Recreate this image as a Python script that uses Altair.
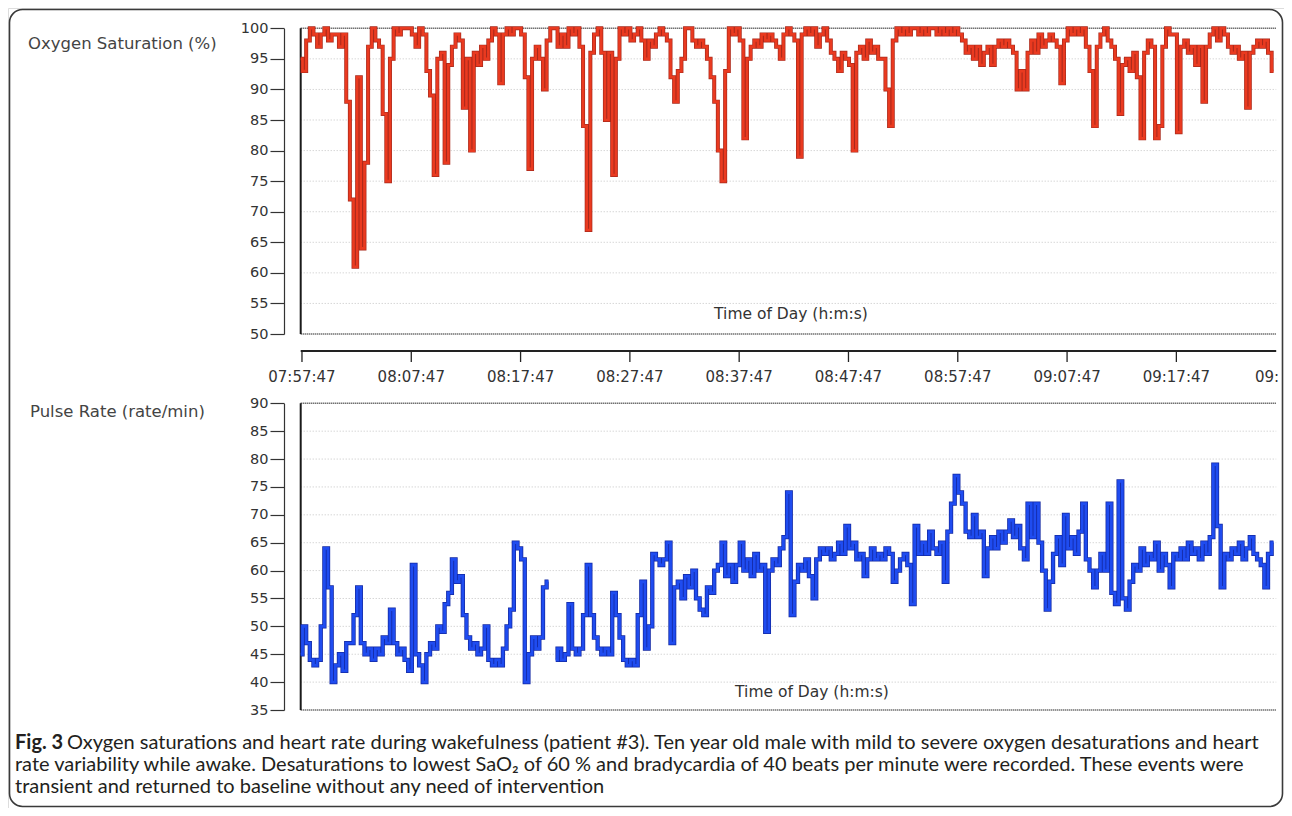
import altair as alt
import pandas as pd

# ---------------- data ----------------
START = "2015-01-01T07:57:40"
END = "2015-01-01T09:26:55"
STEP_SECONDS = 20

spo2 = [
    95, 93, 98, 100, 99, 97, 99, 100, 98, 99,
    99, 97, 99, 88, 72, 61, 92, 64, 78, 97,
    100, 98, 97, 86, 75, 95, 100, 99, 100, 100,
    100, 99, 97, 100, 99, 93, 89, 76, 95, 96,
    78, 94, 97, 99, 98, 87, 95, 80, 96, 94,
    97, 95, 98, 100, 99, 91, 99, 100, 99, 100,
    100, 99, 92, 77, 95, 97, 95, 90, 98, 100,
    100, 97, 99, 97, 100, 99, 100, 97, 84, 67,
    96, 99, 100, 96, 85, 96, 76, 95, 100, 99,
    100, 98, 99, 100, 98, 95, 98, 97, 99, 100,
    99, 98, 92, 88, 93, 95, 100, 100, 98, 97,
    98, 97, 95, 92, 88, 80, 75, 93, 100, 99,
    100, 98, 82, 95, 97, 98, 97, 99, 98, 99,
    98, 97, 95, 99, 100, 99, 98, 79, 99, 100,
    99, 100, 97, 99, 100, 98, 96, 95, 93, 96,
    95, 94, 80, 96, 97, 95, 98, 96, 97, 95,
    95, 90, 84, 98, 100, 99, 100, 99, 100, 100,
    99, 100, 99, 100, 100, 99, 100, 99, 100, 99,
    100, 99, 98, 96, 97, 95, 97, 94, 96, 97,
    94, 97, 98, 97, 98, 97, 96, 90, 93, 90,
    96, 98, 96, 99, 97, 98, 99, 98, 97, 91,
    98, 100, 99, 100, 99, 100, 97, 93, 84, 97,
    99, 100, 98, 97, 95, 86, 94, 95, 93, 96,
    92, 82, 96, 98, 97, 82, 84, 97, 100, 99,
    99, 83, 97, 98, 96, 97, 94, 97, 88, 97,
    99, 100, 98, 100, 99, 97, 96, 97, 95, 96,
    87, 96, 97, 98, 97, 98, 96, 93,
]

pulse = [
    45, 50, 47, 44, 43, 44, 50, 64, 57, 40,
    43, 45, 42, 47, 47, 52, 57, 47, 45, 46,
    44, 46, 45, 48, 47, 53, 47, 45, 46, 44,
    42, 61, 45, 43, 40, 45, 47, 46, 50, 49,
    54, 56, 62, 58, 59, 52, 48, 46, 47, 45,
    46, 50, 44, 43, 44, 43, 46, 50, 53, 65,
    64, 62, 40, 45, 48, 46, 48, 57, 58, None,
    44, 46, 44, 45, 54, 46, 45, 46, 52, 61,
    52, 48, 46, 45, 46, 45, 56, 52, 48, 44,
    43, 44, 43, 52, 58, 46, 50, 63, 62, 61,
    62, 65, 47, 57, 58, 55, 59, 57, 60, 55,
    53, 52, 57, 56, 60, 61, 65, 59, 61, 58,
    61, 65, 60, 62, 59, 63, 60, 61, 49, 60,
    62, 61, 64, 66, 74, 52, 58, 61, 60, 62,
    59, 55, 62, 64, 63, 64, 62, 63, 65, 63,
    68, 64, 65, 62, 63, 59, 62, 64, 62, 63,
    62, 64, 63, 58, 60, 62, 63, 61, 54, 68,
    63, 65, 63, 67, 64, 63, 65, 58, 67, 72,
    77, 74, 72, 67, 66, 70, 66, 67, 59, 64,
    66, 64, 67, 65, 67, 69, 66, 68, 64, 62,
    72, 66, 72, 65, 60, 53, 58, 63, 66, 61,
    70, 64, 66, 63, 67, 72, 62, 60, 57, 60,
    63, 60, 72, 56, 54, 76, 55, 53, 58, 61,
    60, 64, 61, 63, 62, 65, 60, 63, 61, 57,
    63, 62, 64, 62, 65, 63, 64, 62, 65, 63,
    66, 79, 68, 57, 63, 62, 64, 63, 65, 62,
    64, 66, 63, 62, 61, 57, 63, 65,
]

time_ticks = ["07:57:47", "08:07:47", "08:17:47", "08:27:47", "08:37:47",
              "08:47:47", "08:57:47", "09:07:47", "09:17:47"]
spo2_ticks = [50, 55, 60, 65, 70, 75, 80, 85, 90, 95, 100]
pulse_ticks = [35, 40, 45, 50, 55, 60, 65, 70, 75, 80, 85, 90]

title_spo2 = "Oxygen Saturation (%)"
title_pulse = "Pulse Rate (rate/min)"
x_title = "Time of Day (h:m:s)"
cut_label = "09:"
caption_bold = "Fig. 3"
caption_line1 = ("Oxygen saturations and heart rate during wakefulness (patient #3). "
                 "Ten year old male with mild to severe oxygen desaturations and heart")
caption_line2 = ("rate variability while awake. Desaturations to lowest SaO\u2082 of 60 % "
                 "and bradycardia of 40 beats per minute were recorded. These events were")
caption_line3 = "transient and returned to baseline without any need of intervention"

# ---------------- frames ----------------
t0 = pd.Timestamp(START)
stamps = [(t0 + pd.Timedelta(seconds=STEP_SECONDS * i)).strftime("%Y-%m-%dT%H:%M:%S")
          for i in range(len(spo2))]
spo2_df = pd.DataFrame({"time": stamps, "spo2": spo2})

rows, seg = [], 0
for ts, v in zip(stamps, pulse):
    if v is None:
        seg += 1
        continue
    rows.append({"time": ts, "pulse": v, "seg": seg})
pulse_df = pd.DataFrame(rows)

ticks_df = pd.DataFrame({"time": ["2015-01-01T" + t for t in time_ticks], "label": time_ticks})


def dt(s):
    h, m, sec = map(int, s.split(":"))
    return alt.DateTime(year=2015, month=1, date=1, hours=h, minutes=m, seconds=sec)


W, H = 1276, 800
X_SCALE = alt.Scale(domain=[dt("07:57:40"), dt("09:26:55")], range=[292.7, 1268.2], nice=False)
Y_SPO2 = alt.Scale(domain=[50, 100], range=[326.0, 20.3], nice=False, zero=False)
Y_PULSE = alt.Scale(domain=[35, 90], range=[702.0, 395.3], nice=False, zero=False)

FONT = "DejaVu Sans"
INK = "#333333"
AXIS_Y = 343


def y_axis(vals):
    return alt.Axis(orient="left", offset=-276, values=vals, tickSize=14, labelPadding=2,
                    grid=False, title=None, domainColor=INK, domainWidth=1.2,
                    tickColor=INK, tickWidth=1.2, labelFontSize=14.5, labelColor=INK,
                    labelFont=FONT, labelOverlap=False, labelFlush=False)


def grid_layer(vals, yscale, color, width, dash):
    df = pd.DataFrame({"v": vals, "t0": START, "t1": END})
    return alt.Chart(df).mark_rule(color=color, strokeWidth=width, strokeDash=dash).encode(
        x=alt.X("t0:T", scale=X_SCALE, axis=None), x2="t1:T",
        y=alt.Y("v:Q", scale=yscale, axis=None))


def left_frame(lo, hi, yscale):
    df = pd.DataFrame({"t": [START], "lo": [lo], "hi": [hi]})
    return alt.Chart(df).mark_rule(color="#1a1a1a", strokeWidth=2).encode(
        x=alt.X("t:T", scale=X_SCALE, axis=None),
        y=alt.Y("lo:Q", scale=yscale, axis=None), y2="hi:Q")


def text_layer(s, x, y, size, color=INK, font=FONT, weight="normal", align="left",
               baseline="alphabetic"):
    return alt.Chart(pd.DataFrame({"s": [s]})).mark_text(
        align=align, baseline=baseline, font=font, fontSize=size, color=color,
        fontWeight=weight).encode(x=alt.value(x), y=alt.value(y), text="s:N")


# time axis drawn through the shared x scale
time_line = alt.Chart(pd.DataFrame({"t0": [START], "t1": [END]})).mark_rule(
    color="#222222", strokeWidth=1.8).encode(
    x=alt.X("t0:T", scale=X_SCALE, axis=None), x2="t1:T", y=alt.value(AXIS_Y))
time_ticks_layer = alt.Chart(ticks_df).mark_rule(color="#222222", strokeWidth=1.3).encode(
    x=alt.X("time:T", scale=X_SCALE, axis=None),
    y=alt.value(AXIS_Y), y2=alt.value(AXIS_Y + 11))
time_labels = alt.Chart(ticks_df).mark_text(
    align="center", baseline="middle", font=FONT, fontSize=15, color=INK).encode(
    x=alt.X("time:T", scale=X_SCALE, axis=None), y=alt.value(AXIS_Y + 26), text="label:N")

# SpO2 panel
spo2_grid = grid_layer(spo2_ticks[1:-1], Y_SPO2, "#c4c4c4", 1, [1, 2])
spo2_box = grid_layer([50, 100], Y_SPO2, "#333333", 1.6, [1, 1])
spo2_dark = alt.Chart(spo2_df).mark_line(
    interpolate="step", color="#a8291b", strokeWidth=4.0).encode(
    x=alt.X("time:T", scale=X_SCALE, axis=None),
    y=alt.Y("spo2:Q", scale=Y_SPO2, axis=y_axis(spo2_ticks)))
spo2_bright = alt.Chart(spo2_df).mark_line(
    interpolate="step", color="#ea3a20", strokeWidth=2.6).encode(
    x=alt.X("time:T", scale=X_SCALE, axis=None),
    y=alt.Y("spo2:Q", scale=Y_SPO2, axis=None))

# Pulse panel
pulse_grid = grid_layer(pulse_ticks[1:-1], Y_PULSE, "#c4c4c4", 1, [1, 2])
pulse_box = grid_layer([35, 90], Y_PULSE, "#333333", 1.6, [1, 1])
pulse_dark = alt.Chart(pulse_df).mark_line(
    interpolate="step", color="#1329a3", strokeWidth=4.3).encode(
    x=alt.X("time:T", scale=X_SCALE, axis=None),
    y=alt.Y("pulse:Q", scale=Y_PULSE, axis=y_axis(pulse_ticks)),
    detail="seg:N")
pulse_bright = alt.Chart(pulse_df).mark_line(
    interpolate="step", color="#1f4cf0", strokeWidth=2.8).encode(
    x=alt.X("time:T", scale=X_SCALE, axis=None),
    y=alt.Y("pulse:Q", scale=Y_PULSE, axis=None),
    detail="seg:N")

# rounded figure border (decoration)
border = alt.Chart(pd.DataFrame({"b": [0]})).mark_rect(
    fill="white", fillOpacity=0, stroke="#3a3a3a", strokeWidth=1.6, cornerRadius=13).encode(
    x=alt.value(1.5), x2=alt.value(W - 1.5), y=alt.value(1.5), y2=alt.value(H - 1.5))

CAP = "#231f20"
texts = [
    text_layer(title_spo2, 20, 41, 16.5, color="#444444"),
    text_layer(title_pulse, 22, 409, 16.5, color="#444444"),
    text_layer(x_title, 783, 311, 15.5, align="center"),
    text_layer(x_title, 804, 689, 15.5, align="center"),
    text_layer(cut_label, 1247, AXIS_Y + 26, 15, baseline="middle"),
    text_layer(caption_bold, 7, 741, 20, color=CAP, font="Lato", weight="bold"),
    text_layer(caption_line1, 59, 741, 20, color=CAP, font="Lato"),
    text_layer(caption_line2, 7, 763, 20, color=CAP, font="Lato"),
    text_layer(caption_line3, 7, 785, 20, color=CAP, font="Lato"),
]

chart = alt.layer(
    border,
    spo2_grid, spo2_box, left_frame(50, 100, Y_SPO2), spo2_dark, spo2_bright,
    time_line, time_ticks_layer, time_labels,
    pulse_grid, pulse_box, left_frame(35, 90, Y_PULSE), pulse_dark, pulse_bright,
    *texts,
).resolve_scale(y="independent").properties(
    width=W, height=H, autosize=alt.AutoSizeParams(type="none"), padding=0,
).configure_view(stroke=None).configure(background="white")

chart.save("out.html", embed_options={"renderer": "svg", "actions": False})
